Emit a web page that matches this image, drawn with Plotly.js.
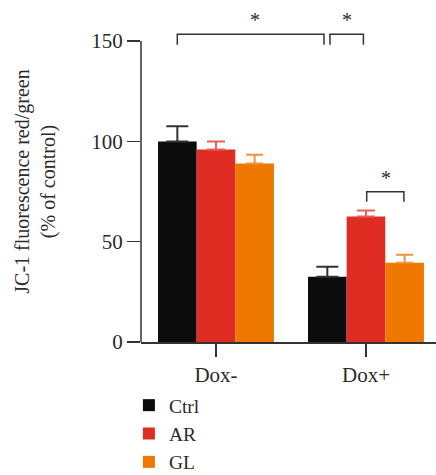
<!DOCTYPE html>
<html>
<head>
<meta charset="utf-8">
<script src="https://cdn.plot.ly/plotly-3.0.1.min.js"></script>
<style>html,body{margin:0;padding:0;background:#fff;}#chart{width:436px;height:475px;}</style>
</head>
<body>
<div id="chart"></div>
<script>
// ---- data ----
const categories = ['Dox-', 'Dox+'];
const seriesNames = ['Ctrl', 'AR', 'GL'];
const ctrlValues = [100, 32.5];
const arValues = [96, 62.5];
const glValues = [89, 39.5];
const ctrlErrors = [7.5, 5];
const arErrors = [4, 3];
const glErrors = [4.3, 4];
const yTickValues = [0, 50, 100, 150];
const yTickLabels = ['0', '50', '100', '150'];
// significance brackets: [x start, x end, y top, y leg bottom]
const bracketLefts = [-0.258, 0.76, 1.005];
const bracketRights = [0.72, 0.983, 1.253];
const bracketTops = [153.4, 153.4, 74.9];
const bracketBottoms = [148.1, 148.1, 69.9];
const starX = [0.26, 0.873, 1.133];
const starY = [153.8, 153.8, 75.5];

const FONT = 'Liberation Serif, Times New Roman, serif';
const TXT = '#2b2b2b';
const barColors = ['#0c0c0c', '#df2d24', '#ef7800'];
const errColors = ['#333333', '#ea5e55', '#f39236'];
const errWidths = [11, 9, 8.5];
const values = [ctrlValues, arValues, glValues];
const errors = [ctrlErrors, arErrors, glErrors];

const traces = seriesNames.map((name, i) => ({
  type: 'bar',
  name: name,
  x: categories,
  y: values[i],
  marker: {color: barColors[i], line: {width: 0}},
  error_y: {type: 'data', symmetric: false, array: errors[i], arrayminus: [0, 0],
            color: errColors[i], thickness: 2, width: errWidths[i]}
}));

const shapes = [];
for (let i = 0; i < bracketLefts.length; i++) {
  const l = bracketLefts[i], r = bracketRights[i], t = bracketTops[i], b = bracketBottoms[i];
  shapes.push({type: 'path', xref: 'x', yref: 'y',
    path: `M ${l} ${b} L ${l} ${t} L ${r} ${t} L ${r} ${b}`,
    line: {color: '#333', width: 1.5}});
}
// y axis line from 0 to 150 only
shapes.push({type: 'line', xref: 'paper', yref: 'y', x0: 0, x1: 0, y0: 0, y1: 150,
  line: {color: '#333', width: 1.5}});

const annotations = starX.map((x, i) => ({
  x: x, y: starY[i], xref: 'x', yref: 'y', text: '*', showarrow: false,
  font: {family: FONT, size: 20, color: TXT}, xanchor: 'center', yanchor: 'bottom'
}));

const layout = {
  width: 436, height: 475,
  margin: {l: 141, r: 0, t: 21, b: 133, autoexpand: false},
  paper_bgcolor: '#fff', plot_bgcolor: '#fff',
  font: {family: FONT, size: 21, color: TXT},
  barmode: 'group', bargap: 0.227, bargroupgap: 0,
  xaxis: {type: 'category', range: [-0.5, 1.467], showline: true, linecolor: '#333', linewidth: 1.5,
    ticks: 'outside', ticklen: 13, tickwidth: 1.5, tickcolor: '#333', showgrid: false, zeroline: false,
    tickfont: {family: FONT, size: 21, color: TXT}},
  yaxis: {range: [0, 160], showline: false, ticks: 'outside', ticklen: 13, tickwidth: 1.5, tickcolor: '#333',
    tickvals: yTickValues, ticktext: yTickLabels, showgrid: false, zeroline: false,
    tickfont: {family: FONT, size: 21, color: TXT},
    title: {text: 'JC-1 fluorescence red/green<br>(% of control)', standoff: 30,
      font: {family: FONT, size: 20, color: TXT}}},
  showlegend: true,
  legend: {x: -0.041, xanchor: 'left', y: -0.137, yanchor: 'top', orientation: 'v',
    font: {family: FONT, size: 19.5, color: TXT}, bgcolor: 'rgba(0,0,0,0)', tracegroupgap: 0},
  shapes: shapes,
  annotations: annotations
};

Plotly.newPlot('chart', traces, layout, {displayModeBar: false, staticPlot: true});
</script>
</body>
</html>
